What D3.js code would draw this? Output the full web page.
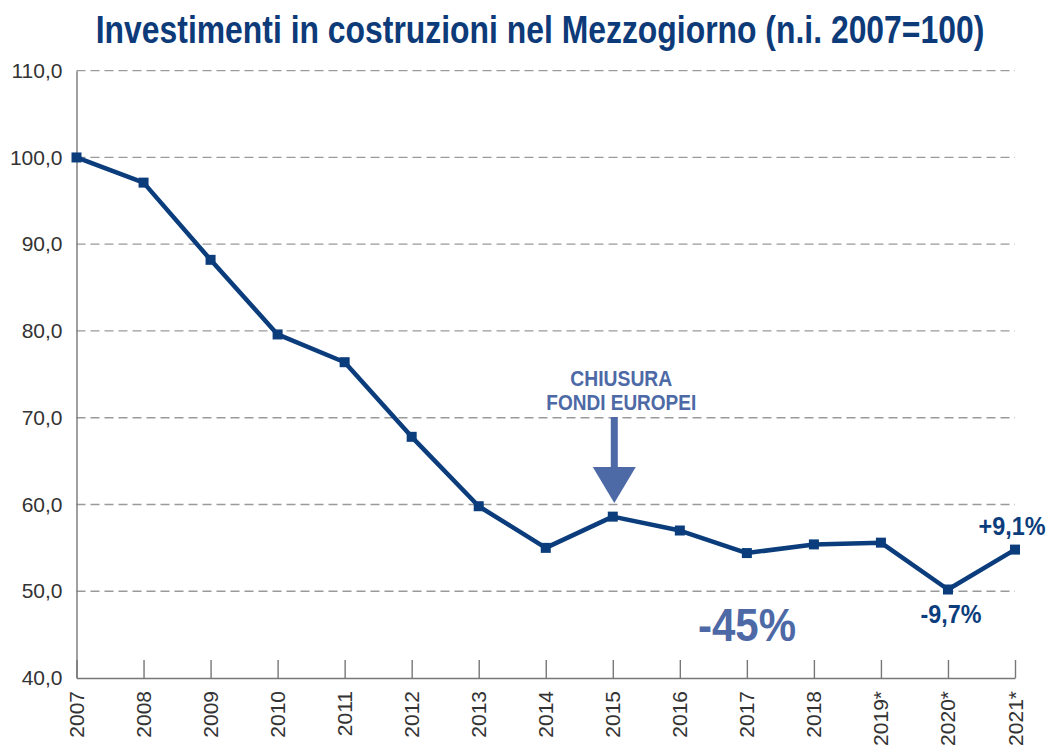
<!DOCTYPE html>
<html>
<head>
<meta charset="utf-8">
<script src="https://cdn.jsdelivr.net/npm/d3@7"></script>
<style>
  body { margin: 0; background: #fff; }
  svg { display: block; }
</style>
</head>
<body>
<div id="chart"></div>
<script>
const years = ["2007", "2008", "2009", "2010", "2011", "2012", "2013", "2014",
  "2015", "2016", "2017", "2018", "2019*", "2020*", "2021*"]
const values = [100, 97.1, 88.2, 79.6, 76.4, 67.8, 59.8, 55.0,
  58.6, 57.0, 54.4, 55.4, 55.6, 50.2, 54.8]
const yTicks = [40, 50, 60, 70, 80, 90, 100, 110]

const W = 1049
const H = 746
const NAVY = "#0b3d7c"
const LIGHT = "#4d69a6"
const NARROW = "'Liberation Sans Narrow', 'Arial Narrow', 'Liberation Sans', sans-serif"
const PLAIN = "'Liberation Sans', Arial, sans-serif"

const svg = d3.select("#chart").append("svg")
  .attr("width", W)
  .attr("height", H)

const x = d3.scalePoint().domain(years).range([76.5, 1015])
const y = d3.scaleLinear().domain([40, 110]).range([678, 70.7])

// bold text squeezed to a given width, the source uses a condensed face
function label(g, tx, ty, size, width, color, str) {
  const t = g.append("text")
    .attr("text-anchor", "middle")
    .attr("font-family", NARROW)
    .attr("font-weight", "bold")
    .attr("font-size", size + "px")
    .attr("fill", color)
    .text(str)
  const len = t.node().getComputedTextLength() || width
  t.attr("transform", `translate(${tx},${ty}) scale(${width / len},1)`)
  return t
}

// Title
label(svg, 540, 43, 39, 889, "#0d3b79",
  "Investimenti in costruzioni nel Mezzogiorno (n.i. 2007=100)")

// Dashed gridlines
svg.append("g")
  .selectAll("line")
  .data(yTicks.filter(d => d > 40))
  .join("line")
  .attr("x1", x.range()[0])
  .attr("x2", x.range()[1])
  .attr("y1", d => y(d))
  .attr("y2", d => y(d))
  .attr("stroke", "#9a9a9a")
  .attr("stroke-width", 1.3)
  .attr("stroke-dasharray", "9 5")

// Y axis
const yAxis = svg.append("g")
  .attr("transform", `translate(${x.range()[0]},0)`)
  .call(d3.axisLeft(y).tickValues(yTicks).tickSize(0).tickPadding(14)
    .tickFormat(d => d3.format(".1f")(d).replace(".", ",")))
yAxis.select(".domain").attr("stroke", "#777").attr("stroke-width", 1.4)
yAxis.selectAll("text")
  .attr("font-family", PLAIN)
  .attr("font-size", "21px")
  .attr("fill", "#333")

// X axis (ticks point up into the plot)
const xAxis = svg.append("g")
  .attr("transform", `translate(0,${y(40)})`)
  .call(d3.axisBottom(x).tickSize(-18).tickSizeOuter(0).tickPadding(0))
xAxis.select(".domain").attr("stroke", "#777").attr("stroke-width", 1.4)
xAxis.selectAll(".tick line").attr("stroke", "#777").attr("stroke-width", 1.4)
xAxis.selectAll("text")
  .attr("font-family", PLAIN)
  .attr("font-size", "21px")
  .attr("fill", "#333")
  .attr("text-anchor", "end")
  .attr("dy", null)
  .attr("transform", "translate(7,13) rotate(-90)")

// Line
const line = d3.line()
  .x((d, i) => x(years[i]))
  .y(d => y(d))

svg.append("path")
  .datum(values)
  .attr("d", line)
  .attr("fill", "none")
  .attr("stroke", NAVY)
  .attr("stroke-width", 4.5)
  .attr("stroke-linejoin", "round")

svg.append("g")
  .selectAll("rect")
  .data(values)
  .join("rect")
  .attr("x", (d, i) => x(years[i]) - 5)
  .attr("y", d => y(d) - 5)
  .attr("width", 10)
  .attr("height", 10)
  .attr("fill", NAVY)

// Annotation: fund closure
const ax = x("2015") + 1.5
label(svg, ax + 7, 386, 22, 102, LIGHT, "CHIUSURA")
label(svg, ax + 7, 410, 22, 150, LIGHT, "FONDI EUROPEI")

svg.append("rect")
  .attr("x", ax - 3.5)
  .attr("y", 417)
  .attr("width", 7)
  .attr("height", 52)
  .attr("fill", LIGHT)
svg.append("path")
  .attr("d", `M ${ax - 21.5} 467 L ${ax + 21.5} 467 L ${ax} 503 Z`)
  .attr("fill", LIGHT)

// Big label
label(svg, 747, 641, 47, 98, LIGHT, "-45%")

// Change labels
label(svg, x("2020*") + 3, 623, 25, 61, NAVY, "-9,7%")
label(svg, x("2021*") - 3, 535, 25, 67, NAVY, "+9,1%")
</script>
</body>
</html>
